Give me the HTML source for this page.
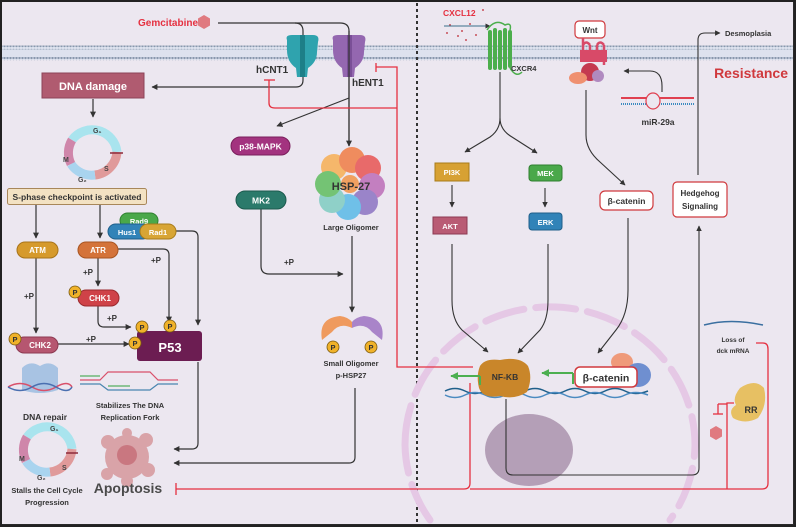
<!DOCTYPE html>
<html><head><meta charset="utf-8"><style>
html,body{margin:0;padding:0;background:#2a2a2a;width:796px;height:527px;overflow:hidden}
svg{display:block;overflow:hidden}
text{font-family:"Liberation Sans",sans-serif;font-weight:bold}
</style></head><body>
<svg width="796" height="527" viewBox="0 0 796 527" xmlns="http://www.w3.org/2000/svg">
<defs>
<clipPath id="clip"><rect x="0" y="0" width="796" height="527"/></clipPath>
<marker id="a" viewBox="0 0 10 10" refX="9" refY="5" markerWidth="5" markerHeight="5" orient="auto"><path d="M0,0L10,5L0,10z" fill="#333"/></marker>
<marker id="g" viewBox="0 0 10 10" refX="9" refY="5" markerWidth="4" markerHeight="4" orient="auto"><path d="M0,0L10,5L0,10z" fill="#4caf50"/></marker>
<pattern id="dots" width="3" height="4" patternUnits="userSpaceOnUse"><circle cx="1.5" cy="2" r="1.2" fill="#8898ad"/></pattern>
</defs>
<g clip-path="url(#clip)">
<rect x="2" y="2" width="791" height="522" fill="#ece7f0"/>
<rect x="2" y="46" width="791" height="14" fill="#dde2ee"/>
<rect x="2" y="45.5" width="791" height="4" fill="url(#dots)"/>
<rect x="2" y="57" width="791" height="4" fill="url(#dots)"/>
<line x1="417" y1="3" x2="417" y2="524" stroke="#333" stroke-width="2" stroke-dasharray="3,3"/>

<path d="M405,445 A145,138 0 1 1 695,445 A145,138 0 0 1 670,520 M430,520 A145,138 0 0 1 405,445" fill="none" stroke="#e5c8e5" stroke-width="7" stroke-dasharray="40,12" stroke-linecap="round"/>
<ellipse cx="529" cy="450" rx="44" ry="36" fill="#b49fb7"/>

<text x="138" y="26" font-size="10" fill="#e53040">Gemcitabine</text>
<polygon points="204,15 210,18.5 210,25.5 204,29 198,25.5 198,18.5" fill="#e07a80"/>
<path d="M218,23 H295 Q303,23 303,31 V80 Q303,87 296,87 H152" fill="none" stroke="#333" stroke-width="1.2" marker-end="url(#a)"/>
<path d="M295,23 H340 Q349,23 349,31 V146" fill="none" stroke="#333" stroke-width="1.2" marker-end="url(#a)"/>
<path d="M349,98 L277,126" fill="none" stroke="#333" stroke-width="1.2" marker-end="url(#a)"/>
<g fill="#2fa3ae"><path d="M287,40 Q285,35 292,35 H302 V77 H297 L296,68 Q287,62 287,50z"/><path d="M302,35 H313 Q320,35 318,42 L317,52 Q317,62 308,68 L307,77 H302z"/></g>
<rect x="300" y="35" width="5" height="42" fill="#1d7f88"/>
<g fill="#9467b0"><path d="M333,40 Q331,35 338,35 H349 V77 H343 L342,68 Q333,62 333,50z"/><path d="M349,35 H360 Q367,35 365,42 L364,52 Q364,62 355,68 L354,77 H349z"/></g>
<rect x="347" y="35" width="5" height="42" fill="#7a4f97"/>
<path d="M349,31 V146" stroke="#333" stroke-width="1.2"/>
<text x="256" y="73" font-size="10" fill="#333">hCNT1</text>
<text x="352" y="86" font-size="10" fill="#333">hENT1</text>

<g fill="none" stroke="#e53040" stroke-width="1.3">
<path d="M473,367 H397 V67 H376"/><path d="M376,63 V72"/>
<path d="M269,80 V103 Q269,108 275,108 H397"/><path d="M264,80 H275"/>
<path d="M470,383 V483 Q470,489 464,489 H176"/><path d="M176,483 V495"/>
<path d="M756,343 H763 Q768,343 768,349 V483 Q768,489 762,489 H470"/>
<path d="M727,489 V403 H734"/><path d="M718,404 H727"/><path d="M718,404 V414"/><path d="M713,414 H723"/>
</g>

<rect x="42" y="73" width="102" height="25" fill="#b05b70" stroke="#8d4358"/>
<text x="93" y="90" font-size="11" fill="#fff" text-anchor="middle">DNA damage</text>
<path d="M93,99 V117" stroke="#333" stroke-width="1.2" marker-end="url(#a)"/>
<g fill="none" stroke-width="9">
<path d="M72,140 A25,25 0 0 1 117,152" stroke="#a9e4ee"/>
<path d="M117,152 A25,25 0 0 1 95,175" stroke="#e09a9a"/>
<path d="M95,175 A25,25 0 0 1 71,164" stroke="#a9d4ef"/>
<path d="M71,164 A25,25 0 0 1 72,140" stroke="#cf86aa"/>
</g>
<line x1="110" y1="153" x2="123" y2="153" stroke="#8d2a3a" stroke-width="1.5"/>
<g font-size="7" fill="#444" font-weight="normal"><text x="93" y="133">G₁</text><text x="63" y="162">M</text><text x="104" y="171">S</text><text x="78" y="182">G₂</text></g>

<rect x="7.5" y="188.5" width="139" height="16" rx="2" fill="#f3e2c3" stroke="#a8875a"/>
<text x="77" y="200" font-size="8.5" fill="#333" text-anchor="middle">S-phase checkpoint is activated</text>
<g fill="none" stroke="#333" stroke-width="1.2">
<path d="M36,205 V238" marker-end="url(#a)"/><path d="M100,205 V238" marker-end="url(#a)"/>
<path d="M36,258 V333" marker-end="url(#a)"/><path d="M98,258 V286" marker-end="url(#a)"/>
<path d="M118,249 H163 Q169,249 169,255 V322" marker-end="url(#a)"/>
<path d="M176,231 H192 Q198,231 198,237 V325" marker-end="url(#a)"/>
<path d="M98,306 V321 Q98,327 104,327 H131" marker-end="url(#a)"/>
<path d="M58,344 H129" marker-end="url(#a)"/>
<path d="M198,362 V443 Q198,449 192,449 H174" marker-end="url(#a)"/>
<path d="M355,388 V457 Q355,463 349,463 H174" marker-end="url(#a)"/>
<path d="M261,209 V266 Q261,274 269,274 H343" marker-end="url(#a)"/>
<path d="M352,236 V312" marker-end="url(#a)"/>
</g>
<g font-size="8" fill="#333"><text x="24" y="299">+P</text><text x="83" y="275">+P</text><text x="151" y="263">+P</text><text x="107" y="321">+P</text><text x="86" y="342">+P</text><text x="284" y="265">+P</text></g>

<rect x="17" y="242" width="41" height="16" rx="8" fill="#d69a2b" stroke="#a8741a"/><text x="37.5" y="253" font-size="8" fill="#fff" text-anchor="middle">ATM</text>
<rect x="78" y="242" width="40" height="16" rx="8" fill="#d4733a" stroke="#a85522"/><text x="98" y="253" font-size="8" fill="#fff" text-anchor="middle">ATR</text>
<rect x="120" y="213" width="38" height="15" rx="7.5" fill="#4aa84a" stroke="#2f7f2f"/><text x="139" y="224" font-size="7.5" fill="#fff" text-anchor="middle">Rad9</text>
<rect x="108" y="224" width="42" height="15" rx="7.5" fill="#3183b8" stroke="#1f5f8a"/><text x="127" y="235" font-size="7.5" fill="#fff" text-anchor="middle">Hus1</text>
<rect x="140" y="224" width="36" height="15" rx="7.5" fill="#d8a535" stroke="#a87c1a"/><text x="158" y="235" font-size="7.5" fill="#fff" text-anchor="middle">Rad1</text>
<rect x="78" y="290" width="41" height="16" rx="8" fill="#cf4248" stroke="#9b2a2e"/><text x="100" y="301" font-size="8" fill="#fff" text-anchor="middle">CHK1</text>
<rect x="16" y="337" width="42" height="16" rx="8" fill="#b65670" stroke="#8d3a52"/><text x="40" y="348" font-size="8" fill="#fff" text-anchor="middle">CHK2</text>
<rect x="137" y="331" width="65" height="30" rx="3" fill="#6c1d52"/><text x="170" y="352" font-size="13" fill="#fff" text-anchor="middle">P53</text>
<g fill="#f0b22a" stroke="#7a5a10" stroke-width="0.8">
<circle cx="75" cy="292" r="6"/><circle cx="15" cy="339" r="6"/><circle cx="142" cy="327" r="6"/><circle cx="170" cy="326" r="6"/><circle cx="135" cy="343" r="6"/>
<circle cx="333" cy="347" r="6"/><circle cx="371" cy="347" r="6"/></g>
<g font-size="7.5" fill="#333" text-anchor="middle"><text x="75" y="295">P</text><text x="15" y="342">P</text><text x="142" y="330">P</text><text x="170" y="329">P</text><text x="135" y="346">P</text><text x="333" y="350">P</text><text x="371" y="350">P</text></g>

<path d="M22,368 Q30,360 40,366 Q50,360 58,368 L58,390 Q40,396 22,390z" fill="#a8c3e3"/>
<path d="M8,387 Q20,380 32,387 T56,387 T72,387" fill="none" stroke="#d9506a" stroke-width="1.5"/>
<path d="M8,387 Q20,394 32,387 T56,387 T72,387" fill="none" stroke="#4a6fb0" stroke-width="1.5"/>
<text x="45" y="420" font-size="8.5" fill="#333" text-anchor="middle">DNA repair</text>
<path d="M80,380 H100 L108,372 H150 L158,380 H178" fill="none" stroke="#d9506a" stroke-width="1.2"/>
<path d="M80,384 H100 L108,390 H150 L158,384 H178" fill="none" stroke="#4a86b0" stroke-width="1.2"/>
<path d="M80,376 H100 M108,386 H130" stroke="#55b060" stroke-width="1.2"/>
<text x="130" y="408" font-size="7.5" fill="#333" text-anchor="middle">Stabilizes The DNA</text>
<text x="130" y="420" font-size="7.5" fill="#333" text-anchor="middle">Replication Fork</text>
<g fill="none" stroke-width="9">
<path d="M27,437 A25,25 0 0 1 72,449" stroke="#a9e4ee"/>
<path d="M72,449 A25,25 0 0 1 50,472" stroke="#e09a9a"/>
<path d="M50,472 A25,25 0 0 1 26,461" stroke="#a9d4ef"/>
<path d="M26,461 A25,25 0 0 1 27,437" stroke="#cf86aa"/>
</g>
<line x1="66" y1="453" x2="78" y2="453" stroke="#8d2a3a" stroke-width="1.5"/>
<g font-size="7" fill="#444" font-weight="normal"><text x="50" y="431">G₁</text><text x="19" y="461">M</text><text x="62" y="470">S</text><text x="37" y="480">G₂</text></g>
<text x="47" y="493" font-size="7.5" fill="#333" text-anchor="middle">Stalls the Cell Cycle</text>
<text x="47" y="505" font-size="7.5" fill="#333" text-anchor="middle">Progression</text>
<g fill="#d9a3a8"><circle cx="127" cy="457" r="22"/><circle cx="108" cy="442" r="7"/><circle cx="146" cy="440" r="7"/><circle cx="148" cy="470" r="7"/><circle cx="107" cy="474" r="6"/><circle cx="127" cy="433" r="5"/><circle cx="127" cy="481" r="6"/></g>
<circle cx="127" cy="455" r="10" fill="#c97780"/>
<text x="128" y="493" font-size="14" fill="#4a4a4a" text-anchor="middle">Apoptosis</text>

<rect x="231" y="137" width="59" height="18" rx="9" fill="#a3337f" stroke="#7a1f5c"/><text x="260.5" y="149.5" font-size="8.5" fill="#fff" text-anchor="middle">p38-MAPK</text>
<rect x="236" y="191" width="50" height="18" rx="9" fill="#2b7a6b" stroke="#1c5a4e"/><text x="261" y="203.5" font-size="8.5" fill="#fff" text-anchor="middle">MK2</text>
<g>
<circle cx="334" cy="167" r="13" fill="#f5b76b"/><circle cx="352" cy="160" r="13" fill="#ef8c5e"/><circle cx="368" cy="168" r="13" fill="#e86a6a"/><circle cx="372" cy="186" r="13" fill="#c37fc0"/><circle cx="365" cy="202" r="13" fill="#9a84c9"/><circle cx="348" cy="207" r="13" fill="#6fc0e8"/><circle cx="332" cy="200" r="13" fill="#8fd0c8"/><circle cx="328" cy="184" r="13" fill="#74c374"/>
<circle cx="350" cy="184" r="9" fill="#f0a060"/>
</g>
<text x="351" y="190" font-size="11" fill="#333" text-anchor="middle">HSP-27</text>
<text x="351" y="230" font-size="7.5" fill="#333" text-anchor="middle">Large Oligomer</text>
<path d="M322,340 Q318,318 340,316 Q348,317 352,322 L352,328 Q340,322 332,332 z" fill="#ef9a5e"/>
<path d="M382,340 Q386,318 364,316 Q356,317 352,322 L352,328 Q364,322 372,332 z" fill="#a984c9"/>
<text x="351" y="366" font-size="7.5" fill="#333" text-anchor="middle">Small Oligomer</text>
<text x="351" y="378" font-size="7.5" fill="#333" text-anchor="middle">p-HSP27</text>

<text x="443" y="16" font-size="8.5" fill="#e53040">CXCL12</text>
<g fill="#c8505a"><circle cx="450" cy="25" r="1"/><circle cx="462" cy="31" r="1"/><circle cx="447" cy="33" r="1"/><circle cx="470" cy="24" r="1"/><circle cx="458" cy="36" r="1"/><circle cx="476" cy="35" r="1"/><circle cx="466" cy="40" r="1"/><circle cx="483" cy="10" r="1"/></g>
<path d="M444,26 H490" stroke="#3a6f8a" stroke-width="1" marker-end="url(#a)"/>
<g fill="#4cae4c"><rect x="488" y="30" width="4" height="40" rx="2"/><rect x="493" y="28" width="4" height="42" rx="2"/><rect x="498" y="30" width="4" height="40" rx="2"/><rect x="503" y="28" width="4" height="42" rx="2"/><rect x="508" y="30" width="4" height="38" rx="2"/></g>
<path d="M487,30 Q495,18 505,25 Q512,22 510,30 M510,68 Q516,78 522,72" fill="none" stroke="#4cae4c" stroke-width="1.5"/>
<text x="511" y="71" font-size="7.5" fill="#333">CXCR4</text>
<g fill="none" stroke="#333" stroke-width="1.1">
<path d="M500,72 V118 Q500,130 490,137 L465,152" marker-end="url(#a)"/>
<path d="M500,118 Q500,130 512,137 L537,153" marker-end="url(#a)"/>
<path d="M452,185 V207" marker-end="url(#a)"/><path d="M545,188 V207" marker-end="url(#a)"/>
<path d="M452,244 V300 Q452,320 462,330 L488,352" marker-end="url(#a)"/>
<path d="M548,244 V300 Q548,320 540,330 L518,353" marker-end="url(#a)"/>
<path d="M628,218 V290 Q628,315 616,330 L598,353" marker-end="url(#a)"/>
<path d="M586,90 V135 Q586,150 600,162 L625,185" marker-end="url(#a)"/>
<path d="M662,92 V86 Q662,71 650,71 H624" marker-end="url(#a)"/>
<path d="M506,399 V468 Q506,475 513,475 H692 Q699,475 699,468 V226" marker-end="url(#a)"/>
<path d="M698,175 V40 Q698,33 705,33 H720" marker-end="url(#a)"/>
</g>
<rect x="435" y="163" width="34" height="18" fill="#d7a133" stroke="#a87c1a"/><text x="452" y="175" font-size="7.5" fill="#fff" text-anchor="middle">PI3K</text>
<rect x="433" y="217" width="34" height="17" fill="#b95b74" stroke="#8d3a52"/><text x="450" y="229" font-size="7.5" fill="#fff" text-anchor="middle">AKT</text>
<rect x="529" y="165" width="33" height="16" rx="3" fill="#4aa84a" stroke="#2f7f2f"/><text x="545.5" y="176" font-size="7.5" fill="#fff" text-anchor="middle">MEK</text>
<rect x="529" y="213" width="33" height="17" rx="3" fill="#3183b8" stroke="#1f5f8a"/><text x="545.5" y="225" font-size="7.5" fill="#fff" text-anchor="middle">ERK</text>
<rect x="575" y="21" width="30" height="17" rx="4" fill="#fff" stroke="#d0393d" stroke-width="1.2"/><text x="590" y="33" font-size="8" fill="#333" text-anchor="middle">Wnt</text>
<g fill="none" stroke="#d84a68" stroke-width="2.5"><path d="M583,38 V60 M590,45 V60 M597,45 V60 M604,45 V65 M583,45 Q586,40 590,45 M597,45 Q600,40 604,45"/></g>
<rect x="580" y="50" width="27" height="12" fill="#d84a68"/>
<circle cx="590" cy="72" r="9" fill="#c43a50"/><circle cx="598" cy="76" r="6" fill="#b08ac0"/><ellipse cx="578" cy="78" rx="9" ry="6" fill="#ef9070"/>
<rect x="600" y="191" width="53" height="19" rx="5" fill="#fff" stroke="#d0393d" stroke-width="1.2"/><text x="626.5" y="204" font-size="8.5" fill="#333" text-anchor="middle">β-catenin</text>
<path d="M621,98 H694" stroke="#e04050" stroke-width="2"/>
<path d="M621,104 H694" stroke="#3a8ac0" stroke-width="2" stroke-dasharray="1,1"/>
<ellipse cx="653" cy="101" rx="7" ry="8" fill="#ece7f0" stroke="#e04050" stroke-width="1.2"/>
<text x="658" y="125" font-size="8.5" fill="#333" text-anchor="middle">miR-29a</text>
<rect x="673" y="182" width="54" height="35" rx="4" fill="#fff" stroke="#d0393d" stroke-width="1.2"/>
<text x="700" y="196" font-size="8" fill="#333" text-anchor="middle">Hedgehog</text><text x="700" y="209" font-size="8" fill="#333" text-anchor="middle">Signaling</text>
<text x="725" y="36" font-size="7.5" fill="#333">Desmoplasia</text>
<text x="788" y="78" font-size="14" fill="#d0393d" text-anchor="end">Resistance</text>

<path d="M445,391 Q455,386 465,391 T485,391 T505,391 T525,391 T545,391 T565,391 T585,391 T605,391 T625,391 T648,391" fill="none" stroke="#1f5f8a" stroke-width="1.5"/>
<path d="M445,395 Q455,400 465,395 T485,395 T505,395 T525,395 T545,395 T565,395 T585,395 T605,395 T625,395 T648,395" fill="none" stroke="#4a8ac0" stroke-width="1.5"/>
<path d="M480,366 Q485,358 500,360 Q520,356 528,366 Q533,378 527,392 Q515,400 500,396 Q483,399 479,388 Q476,376 480,366z" fill="#c9862a"/>
<text x="505" y="380" font-size="8.5" fill="#333" text-anchor="middle">NF-KB</text>
<ellipse cx="622" cy="362" rx="11" ry="9" fill="#ef9a7a"/><ellipse cx="638" cy="375" rx="13" ry="12" fill="#6f8fd0"/>
<rect x="575" y="367" width="62" height="20" rx="5" fill="#fff" stroke="#d0393d" stroke-width="1.5"/><text x="606" y="381.5" font-size="10.5" fill="#333" text-anchor="middle">β-catenin</text>
<path d="M480,376 H451" stroke="#4caf50" stroke-width="2" marker-end="url(#g)"/>
<path d="M480,376 V385" stroke="#4caf50" stroke-width="2"/>
<path d="M573,373 H542" stroke="#4caf50" stroke-width="2" marker-end="url(#g)"/>
<path d="M573,373 V384" stroke="#4caf50" stroke-width="2"/>
<path d="M704,325 Q730,318 763,325" fill="none" stroke="#3a6fa0" stroke-width="1.5"/>
<text x="733" y="342" font-size="6.5" fill="#333" text-anchor="middle">Loss of</text>
<text x="733" y="353" font-size="6.5" fill="#333" text-anchor="middle">dck mRNA</text>
<path d="M740,388 Q755,378 764,388 Q768,405 758,418 Q745,425 733,418 Q728,410 736,405 Q732,398 740,388z" fill="#e7c063"/>
<text x="751" y="413" font-size="9" fill="#333" text-anchor="middle">RR</text>
<polygon points="716,426 722,429.5 722,436.5 716,440 710,436.5 710,429.5" fill="#e07a80"/>
<rect x="0" y="0" width="796" height="527" fill="none" stroke="#222" stroke-width="4"/>
</g>
</svg>
</body></html>
